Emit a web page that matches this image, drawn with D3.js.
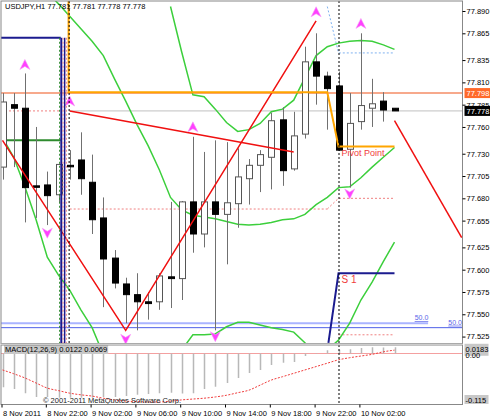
<!DOCTYPE html>
<html><head><meta charset="utf-8">
<script src="https://cdn.jsdelivr.net/npm/d3@7"></script>
<style>body{margin:0;background:#fff}svg{display:block}text{font-family:"Liberation Sans",Arial,sans-serif}</style>
</head><body><svg id="c" width="490" height="420"></svg>
<script>
const title = "USDJPY,H1  77.781 77.781 77.778 77.778";
const timeLabels = ["8 Nov 2011","8 Nov 22:00","9 Nov 02:00","9 Nov 06:00","9 Nov 10:00","9 Nov 14:00","9 Nov 18:00","9 Nov 22:00","10 Nov 02:00"];
const timeLabelBars = [0,4,8,12,16,20,24,28,32];
const priceTicks = [77.890,77.865,77.835,77.810,77.785,77.760,77.730,77.705,77.680,77.655,77.625,77.600,77.575,77.550,77.525];
// OHLC per H1 bar
const open  = [77.715,77.785,77.781,77.694,77.695,77.684,77.717,77.723,77.698,77.658,77.613,77.584,77.572,77.564,77.564,77.592,77.590,77.676,77.640,77.676,77.662,77.674,77.702,77.717,77.726,77.768,77.713,77.752,77.833,77.817,77.806,77.735,77.766,77.781,77.789,77.781];
const high  = [77.798,77.798,77.820,77.760,77.710,77.719,77.734,77.754,77.729,77.681,77.622,77.591,77.596,77.575,77.596,77.676,77.677,77.749,77.732,77.745,77.743,77.736,77.724,77.734,77.776,77.782,77.777,77.850,77.865,77.822,77.822,77.798,77.865,77.814,77.799,77.781];
const low   = [77.701,77.715,77.653,77.658,77.650,77.675,77.701,77.684,77.640,77.558,77.579,77.540,77.532,77.544,77.555,77.557,77.566,77.619,77.625,77.532,77.606,77.647,77.673,77.687,77.690,77.694,77.711,77.747,77.785,77.757,77.733,77.692,77.757,77.760,77.766,77.778];
const close = [77.788,77.781,77.692,77.693,77.683,77.718,77.716,77.702,77.656,77.612,77.585,77.572,77.564,77.562,77.593,77.590,77.676,77.640,77.676,77.662,77.675,77.704,77.717,77.729,77.767,77.711,77.750,77.833,77.817,77.803,77.734,77.764,77.784,77.786,77.779,77.778];
// bands (bar index, price)
const bandUpper = [[15,77.895],[16,77.844],[17,77.796],[18,77.794],[19,77.780],[20,77.765],[21,77.755],[22,77.757],[23,77.764],[24,77.777],[25,77.780],[26,77.790],[27,77.815],[28,77.840],[29,77.850],[30,77.854],[31,77.856],[32,77.857],[33,77.856],[34,77.852],[35,77.847]];
const bandMiddle = [[4,77.911],[5,77.898],[6,77.884],[7,77.870],[8,77.856],[9,77.840],[10,77.814],[11,77.789],[12,77.763],[13,77.739],[14,77.712],[15,77.681],[16,77.667],[17,77.661],[18,77.659],[19,77.657],[20,77.654],[21,77.651],[22,77.650],[23,77.651],[24,77.653],[25,77.656],[26,77.657],[27,77.662],[28,77.673],[29,77.681],[30,77.692],[31,77.693],[32,77.703],[33,77.715],[34,77.726],[35,77.737]];
const bandLower = [[0,77.748],[1,77.726],[2,77.693],[3,77.656],[4,77.614],[5,77.594],[6,77.577],[7,77.555],[8,77.535],[9,77.505],[10,77.49],[11,77.48],[12,77.48],[13,77.48],[14,77.49],[15,77.50],[16,77.510],[17,77.527],[18,77.527],[19,77.528],[20,77.536],[21,77.541],[22,77.541],[23,77.538],[24,77.535],[25,77.533],[26,77.530],[27,77.518],[28,77.505],[29,77.510],[30,77.521],[31,77.540],[32,77.566],[33,77.586],[34,77.609],[35,77.631]];
const zigzag = [[0,77.745],[11,77.532],[28,77.879]];
const trendA = [[6,77.778],[26,77.732]];
const trendB = [[35,77.767],[41,77.636]];
const pivotLine = [[5.9,77.905],[5.9,77.799],[29,77.799],[30,77.738],[35,77.738]];
const s1Line = [[29.1,77.518],[30,77.596],[35,77.596]];
const upFractals = [[2,77.829],[6,77.788],[17,77.759],[28,77.888],[32,77.875]];
const downFractals = [[4,77.642],[11,77.523],[19,77.526],[31,77.686]];
const macdHist = [-0.080,-0.084,-0.094,-0.103,-0.103,-0.105,-0.105,-0.105,-0.105,-0.103,-0.103,-0.101,-0.098,-0.096,-0.094,-0.093,-0.095,-0.094,-0.084,-0.079,-0.070,-0.058,-0.046,-0.039,-0.027,-0.022,-0.020,-0.006,0.001,0.008,0.009,0.010,0.013,0.015,0.014,0.015];
const macdSignal = [-0.039,-0.048,-0.058,-0.070,-0.082,-0.088,-0.094,-0.098,-0.101,-0.106,-0.110,-0.113,-0.114,-0.115,-0.115,-0.113,-0.110,-0.108,-0.106,-0.103,-0.099,-0.093,-0.087,-0.075,-0.063,-0.055,-0.047,-0.039,-0.031,-0.023,-0.015,-0.010,-0.006,-0.002,0.004,0.008];

const svg = d3.select("#c");
const x = d3.scaleLinear().domain([0,41]).range([2.5,461.7]);
const y = d3.scaleLinear().domain([77.9001,77.5178]).range([2,343]);
const ym = d3.scaleLinear().domain([0,-0.115]).range([353.5,402]);
const L=1, R=462.5, T=1, B=343.5, MT=345, MB=404.5;
const FS=7.5;

const defs=svg.append("defs");
defs.append("clipPath").attr("id","cp").append("rect").attr("x",L).attr("y",T).attr("width",R-L).attr("height",B-T);
defs.append("clipPath").attr("id","cm").append("rect").attr("x",L).attr("y",MT).attr("width",R-L).attr("height",MB-MT);
const g = svg.append("g").attr("clip-path","url(#cp)");
const gm = svg.append("g").attr("clip-path","url(#cm)");
const line = d3.line().x(d=>x(d[0])).y(d=>y(d[1]));

const hl=(p,x0,x1,col,w,dash)=>g.append("line").attr("x1",x0).attr("x2",x1).attr("y1",y(p)).attr("y2",y(p)).attr("stroke",col).attr("stroke-width",w).attr("stroke-dasharray",dash||null);
hl(77.798,L,R,"#f7a98c",2);
hl(77.778,x(6),R,"#c0c0c0",1);
hl(77.778,L,x(5.2),"#f08080",1,"2,2");
hl(77.668,x(6),x(29),"#f08080",1,"2,2");
g.append("path").attr("d",line([[29,77.668],[30,77.680],[35,77.680]])).attr("fill","none").attr("stroke","#f08080").attr("stroke-dasharray","2,2");
hl(77.527,x(30),x(35),"#f08080",1,"2,2");
hl(77.540,L,x(38),"#aab4ff",2);
hl(77.535,L,R,"#4f5fe8",1);
hl(77.745,L,x(5.2),"#2e8b2e",2);
g.append("line").attr("x1",L).attr("x2",x(5.2)).attr("y1",y(77.860)).attr("y2",y(77.860)).attr("stroke","#1b1b8f").attr("stroke-width",2);
g.append("path").attr("d",line([[29,77.895],[30,77.843],[35,77.843]])).attr("fill","none").attr("stroke","#7fb2f0").attr("stroke-dasharray","2,2");

[[5.1,"#2e8b2e","2,2",1],[5.25,"#1b1b8f",null,2],[5.4,"#f08080","2,2",1],[5.55,"#1b1b8f",null,1.5],[5.7,"#f08080","2,2",1],[5.95,"#000","2,2",1]].forEach(v=>{
  svg.append("line").attr("x1",x(v[0])).attr("x2",x(v[0])).attr("y1",v[0]>5.9?T:y(77.860)).attr("y2",B).attr("stroke",v[1]).attr("stroke-width",v[3]).attr("stroke-dasharray",v[2]);
});

[bandUpper,bandMiddle,bandLower].forEach(b=>g.append("path").attr("d",line(b)).attr("fill","none").attr("stroke","#3ccf3c").attr("stroke-width",1.5));
const cw=6;
d3.range(open.length).forEach(i=>{
  const cx=Math.round(x(i))+0.5;
  g.append("line").attr("x1",cx).attr("x2",cx).attr("y1",y(high[i])).attr("y2",y(low[i])).attr("stroke","#707070");
  const top=y(Math.max(open[i],close[i])), bot=y(Math.min(open[i],close[i]));
  g.append("rect").attr("x",cx-cw/2).attr("y",top).attr("width",cw).attr("height",Math.max(bot-top,1.5))
   .attr("fill",close[i]>open[i]?"#fff":"#000").attr("stroke",close[i]>open[i]?"#555":"#000");
});
g.append("path").attr("d",line(zigzag)).attr("fill","none").attr("stroke","#f01010").attr("stroke-width",1.5);
g.append("path").attr("d",line(trendA)).attr("fill","none").attr("stroke","#f01010").attr("stroke-width",1.5);
g.append("path").attr("d",line(trendB)).attr("fill","none").attr("stroke","#f01010").attr("stroke-width",1.5);
g.append("path").attr("d",line(pivotLine)).attr("fill","none").attr("stroke","#ffa500").attr("stroke-width",2);
g.append("path").attr("d",line(s1Line)).attr("fill","none").attr("stroke","#1b1b8f").attr("stroke-width",2);
g.append("text").attr("x",x(30)+3).attr("y",y(77.738)+9).attr("font-size",9).attr("fill","#f03c3c").text("Pivot Point");
g.append("text").attr("x",x(30)+3).attr("y",y(77.596)+10).attr("font-size",10).attr("fill","#f03c3c").text("S 1");
g.append("text").attr("x",x(36.8)).attr("y",y(77.540)-3).attr("font-size",7).attr("fill","#5a64e8").attr("text-decoration","underline").text("50.0");
g.append("text").attr("x",x(39.8)).attr("y",y(77.535)-3).attr("font-size",7).attr("fill","#5a64e8").attr("text-decoration","underline").text("50.0");
const arrow=(i,p,up)=>{const cx=x(i),cy=y(p);
  const pts= up?[[cx,cy-6],[cx+5,cy+4],[cx,cy+1],[cx-5,cy+4]]:[[cx,cy+6],[cx+5,cy-4],[cx,cy-1],[cx-5,cy-4]];
  g.append("polygon").attr("points",pts.map(p=>p.join(",")).join(" ")).attr("fill","#ff40ff").attr("stroke","#f6a0f6").attr("stroke-width",0.6);};
upFractals.forEach(d=>arrow(d[0],d[1],true));
downFractals.forEach(d=>arrow(d[0],d[1],false));

svg.append("line").attr("x1",x(30)+0.5).attr("x2",x(30)+0.5).attr("y1",T).attr("y2",MB).attr("stroke","#000").attr("stroke-dasharray","2,2");

gm.append("line").attr("x1",L).attr("x2",R).attr("y1",ym(0)).attr("y2",ym(0)).attr("stroke","#f4a0a0");
macdHist.forEach((v,i)=>{const cx=Math.round(x(i))+0.5;
  gm.append("line").attr("x1",cx).attr("x2",cx).attr("y1",ym(0)).attr("y2",ym(v)).attr("stroke","#b8b8b8").attr("stroke-width",1.5);});
gm.append("path").attr("d",d3.line().x((d,i)=>x(i)).y(d=>ym(d)).curve(d3.curveMonotoneX)(macdSignal)).attr("fill","none").attr("stroke","#f03c3c").attr("stroke-dasharray","2,1.5");
const mrect=svg.append("rect").attr("fill","#c8c8c8");
const ml=svg.append("text").attr("x",5).attr("y",352).attr("font-size",FS).text("MACD(12,26,9) 0.0122 0.0069");
const bb=ml.node().getBBox();
mrect.attr("x",bb.x-1).attr("y",bb.y).attr("width",bb.width+2).attr("height",bb.height);
svg.append("text").attr("x",43).attr("y",403).attr("font-size",FS).attr("fill","#222").text("\u00a9 2001-2011 MetaQuotes Software Corp.");

svg.append("rect").attr("x",L).attr("y",T).attr("width",R-L).attr("height",B-T).attr("fill","none").attr("stroke","#888");
svg.append("rect").attr("x",L).attr("y",MT).attr("width",R-L).attr("height",MB-MT).attr("fill","none").attr("stroke","#888");
svg.append("line").attr("x1",L).attr("x2",R).attr("y1",344.2).attr("y2",344.2).attr("stroke","#ccc").attr("stroke-width",1.5);

const ax=svg.append("g").attr("transform",`translate(${R},0)`).call(d3.axisRight(y).tickValues(priceTicks).tickSize(3).tickFormat(d3.format(".3f")));
ax.select(".domain").remove();
ax.selectAll("text").attr("font-size",FS).attr("font-family","Liberation Sans").attr("x",4);
const box=(p,txt,bg,fg)=>{svg.append("rect").attr("x",R+2).attr("y",y(p)-5).attr("width",26).attr("height",10).attr("fill",bg);
  svg.append("text").attr("x",R+4).attr("y",y(p)+3).attr("font-size",FS).attr("fill",fg).text(txt);};
box(77.798,"77.798","#ff6a2a","#fff");
box(77.778,"77.778","#000","#fff");
const mlab=[["0.0183",ym(0.0183)+6],["0.00",ym(0)+4],["-0.115",ym(-0.115)+1]];
svg.append("rect").attr("x",R+2).attr("y",ym(-0.115)-7).attr("width",24).attr("height",9).attr("fill","#c8c8c8");
svg.append("rect").attr("x",R+2).attr("y",ym(0.0183)-2).attr("width",24).attr("height",12).attr("fill","#c8c8c8");
mlab.forEach(m=>svg.append("text").attr("x",R+3).attr("y",m[1]).attr("font-size",FS).text(m[0]));

timeLabelBars.forEach((b,k)=>{const xx=k==0?2:x(b)-1;
  svg.append("line").attr("x1",xx).attr("x2",xx).attr("y1",MB).attr("y2",MB+3).attr("stroke","#000");
  svg.append("text").attr("x",xx+1).attr("y",416).attr("font-size",FS).text(timeLabels[k]);});
svg.append("text").attr("x",5).attr("y",9).attr("font-size",FS).text(title);
</script></body></html>
